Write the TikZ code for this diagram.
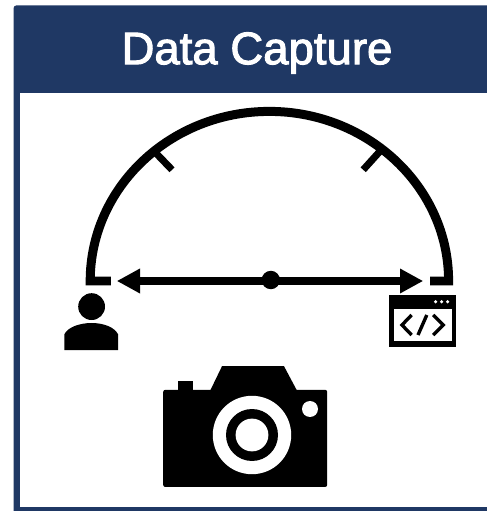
\documentclass[tikz,border=0pt]{standalone}
\usepackage{fontspec}
\setmainfont{Liberation Sans}
\newfontfamily\titlefont[FakeBold=2.2]{Liberation Sans}
\usetikzlibrary{arrows.meta, calc}
\definecolor{capnavy}{HTML}{1F3864}

\tikzset{
  arcline/.style={black, line width=6.4pt},
  tickline/.style={black, line width=5pt},
  codeline/.style={black, line width=2.4pt},
  spanline/.style={black, line width=5.3pt, {Triangle[length=0.58cm, width=0.58cm]}-{Triangle[length=0.58cm, width=0.58cm]}},
}

\begin{document}
\begin{tikzpicture}[x=1cm, y=1cm]

\useasboundingbox (0,0) rectangle (12.175,12.775);
\fill[white] (0,0) rectangle (12.175,12.775);

% Frame and header
\fill[capnavy, rounded corners=2pt] (0.34,-0.2) rectangle (12.4,12.64);
\fill[white] (0.49,0.11) rectangle (12.175,10.46);
\node[text=white, font=\titlefont\fontsize{32.4}{32}\selectfont] (title) at (6.425,11.45) {Data Capture};

% Dome with its two tick marks
\draw[arcline, line join=miter] (2.775,5.75) -- (2.255,5.75) arc[start angle=180, end angle=0, x radius=4.48, y radius=4.24] -- (10.75,5.75);
\draw[tickline] (3.8,9.05) -- (4.3,8.53);
\draw[tickline] (9.55,9.05) -- (9.08,8.53);

% Span with centre dot
\coordinate (userEnd) at (2.92,5.75);
\coordinate (appEnd) at (10.58,5.75);
\draw[spanline] (userEnd) -- (appEnd);
\node[circle, fill=black, inner sep=0pt, minimum size=0.46cm] (midDot) at (6.77,5.775) {};

% User icon
\fill[black] (2.29,5.11) circle (0.335);
\fill[black] (1.61,4.025) -- (1.61,4.42) .. controls (1.7,4.6) and (2.0,4.7) .. (2.29,4.7)
  .. controls (2.58,4.7) and (2.86,4.6) .. (2.95,4.42) -- (2.95,4.025) -- cycle;

% App window icon
\fill[black] (9.725,4.11) rectangle (11.4,5.4);
\fill[white] (9.85,4.24) rectangle (11.29,5.05);
\foreach \dotx in {10.89,11.04,11.19} \fill[white] (\dotx,5.23) circle (0.045);
\draw[codeline] (10.29,4.9) -- (10.05,4.65) -- (10.29,4.4);
\draw[codeline] (10.67,4.9) -- (10.45,4.4);
\draw[codeline] (10.83,4.9) -- (11.08,4.65) -- (10.83,4.4);

% Camera icon
\fill[black, rounded corners=1.5pt] (4.08,0.6) rectangle (8.18,3.03);
\fill[black] (5.25,3) -- (5.55,3.62) -- (7.1,3.62) -- (7.43,3) -- cycle;
\fill[black] (4.45,3) rectangle (4.82,3.25);
\fill[white] (6.3,1.9) circle (0.98);
\fill[black] (6.3,1.9) circle (0.65);
\fill[white] (6.3,1.9) circle (0.41);
\fill[white] (7.75,2.55) circle (0.2);

\end{tikzpicture}
\end{document}
